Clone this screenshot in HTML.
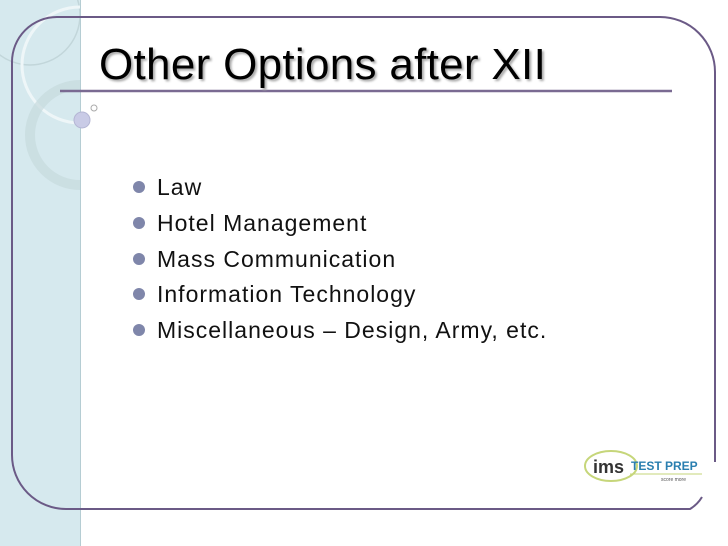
<!DOCTYPE html>
<html><head><meta charset="utf-8"><style>
body{margin:0;width:728px;height:546px;overflow:hidden;background:#fff;font-family:"Liberation Sans",sans-serif;position:relative}
.panel{position:absolute;left:0;top:0;width:80px;height:546px;background:#d6e9ee;border-right:1px solid #b5cdd3}
.title{position:absolute;left:99px;top:40px;font-size:44px;color:#000;text-shadow:2px 2px 2px #aaa;letter-spacing:0.3px}
ul{position:absolute;left:133px;top:171px;margin:0;padding:0;list-style:none;font-size:23px;color:#111;letter-spacing:1px}
li{height:35.8px;line-height:32px}
li:before{content:"";display:inline-block;width:12px;height:12px;border-radius:50%;background:#7f86aa;margin-right:12px;vertical-align:2px}
</style></head><body>
<div class="panel"></div>
<svg width="728" height="546" style="position:absolute;left:0;top:0">
<defs><clipPath id="c"><rect x="0" y="0" width="80" height="546"/></clipPath></defs>
<g clip-path="url(#c)">
<circle cx="30" cy="15" r="50" fill="none" stroke="#c2d6da" stroke-width="1.5"/>
<circle cx="80" cy="65" r="58" fill="none" stroke="#eef6f8" stroke-width="3"/>
<circle cx="80" cy="135" r="50" fill="none" stroke="#c6dadd" stroke-width="10" opacity="0.7"/>
</g>
<circle cx="82" cy="120" r="8" fill="#c9cbe6" stroke="#b4b6d4"/>
<circle cx="94" cy="108" r="3" fill="#fff" stroke="#aaa"/>
<path d="M12 455 L12 62 A45 45 0 0 1 57 17 L660 17 A55 55 0 0 1 715 72 L715 462" fill="none" stroke="#6b5a86" stroke-width="2"/>
<path d="M12 455 A54 54 0 0 0 66 509 L690 509 A35 35 0 0 0 702 497" fill="none" stroke="#6b5a86" stroke-width="2"/>
<line x1="60" y1="91" x2="672" y2="91" stroke="#7a6a92" stroke-width="2.5"/>
<ellipse cx="611" cy="466" rx="26" ry="15" fill="none" stroke="#c6d67a" stroke-width="2"/>
<text x="593" y="473" font-family="Liberation Sans" font-weight="bold" font-size="18" fill="#333">ims</text>
<text x="631" y="470" font-family="Liberation Sans" font-weight="bold" font-size="12" fill="#2a7fb0">TEST PREP</text>
<line x1="630" y1="474" x2="702" y2="474" stroke="#c6d67a" stroke-width="1"/>
<text x="661" y="481" font-family="Liberation Sans" font-size="5" fill="#555">score more</text>
</svg>
<div class="title">Other Options after XII</div>
<ul>
<li>Law</li>
<li>Hotel Management</li>
<li>Mass Communication</li>
<li>Information Technology</li>
<li>Miscellaneous – Design, Army, etc.</li>
</ul>
</body></html>
